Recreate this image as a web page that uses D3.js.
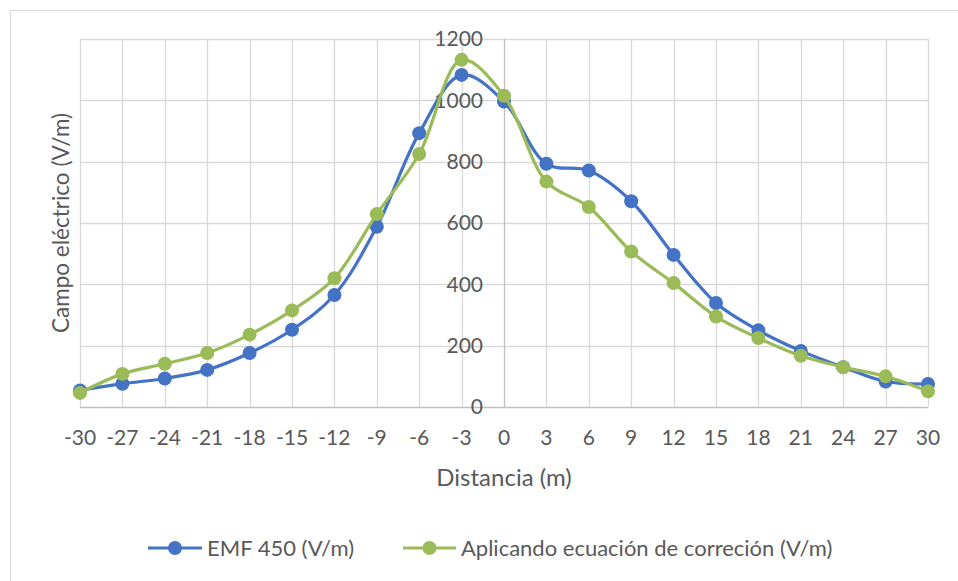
<!DOCTYPE html>
<html><head><meta charset="utf-8">
<script src="https://cdn.jsdelivr.net/npm/d3@7"></script>
<style>
body{margin:0;background:#fff;}
text{font-family:Lato,"Open Sans",sans-serif;fill:#595959;}
</style></head>
<body><svg id="c" width="958" height="581"></svg>
<script>
const distances = [-30,-27,-24,-21,-18,-15,-12,-9,-6,-3,0,3,6,9,12,15,18,21,24,27,30];
const emf450 = [54,76,93,121,176,252,365,588,893,1083,996,793,771,671,496,339,250,183,130,83,75];
const corregido = [46,108,141,176,236,315,420,629,825,1132,1015,735,652,507,404,295,225,167,130,100,51];
const yTicks = [0,200,400,600,800,1000,1200];
const seriesNames = ["EMF 450 (V/m)","Aplicando ecuación de correción (V/m)"];
const colors = ["#4472C4","#9BBB59"];

const svg = d3.select("#c");
svg.append("rect").attr("x",10.5).attr("y",10.5).attr("width",960).attr("height",580)
  .attr("fill","#fff").attr("stroke","#d9d9d9").attr("stroke-width",1);

const x = d3.scaleLinear().domain([-30,30]).range([80,928]);
const y = d3.scaleLinear().domain([0,1200]).range([407,39]);

// gridlines
svg.append("g").selectAll("line").data(yTicks).join("line")
  .attr("x1",x(-30)).attr("x2",x(30)).attr("y1",d=>Math.round(y(d))+0.5).attr("y2",d=>Math.round(y(d))+0.5)
  .attr("stroke",d=>d===0?"#bfbfbf":"#d9d9d9").attr("stroke-width",1.3);
svg.append("g").selectAll("line").data(distances).join("line")
  .attr("y1",y(0)).attr("y2",y(1200)).attr("x1",d=>Math.round(x(d))+0.5).attr("x2",d=>Math.round(x(d))+0.5)
  .attr("stroke",d=>d===0?"#bfbfbf":"#d9d9d9").attr("stroke-width",1.3);

// y tick labels (next to y axis at x=0)
svg.append("g").selectAll("text").data(yTicks).join("text")
  .attr("x",x(0)-21).attr("y",d=>y(d)).attr("dy","0.35em").attr("text-anchor","end")
  .style("font-size","21px").text(d=>d);
// x tick labels
svg.append("g").selectAll("text").data(distances).join("text")
  .attr("x",d=>x(d)).attr("y",438).attr("dy","0.35em").attr("text-anchor","middle")
  .style("font-size","21px").text(d=>d);

// axis titles
svg.append("text").attr("x",x(0)).attr("y",478).attr("dy","0.35em").attr("text-anchor","middle")
  .style("font-size","24px").text("Distancia (m)");
svg.append("text").attr("transform",`translate(61,${(y(0)+y(1200))/2}) rotate(-90)`).attr("dy","0.35em")
  .attr("text-anchor","middle").style("font-size","22.5px").text("Campo eléctrico (V/m)");

const line = d3.line().x(d=>x(d[0])).y(d=>y(d[1])).curve(d3.curveCatmullRom.alpha(0.5));
[emf450,corregido].forEach((vals,i)=>{
  const pts = distances.map((d,j)=>[d,vals[j]]);
  const g = svg.append("g");
  g.append("path").attr("d",line(pts)).attr("fill","none").attr("stroke",colors[i]).attr("stroke-width",3.2)
    .attr("stroke-linejoin","round");
  g.selectAll("circle").data(pts).join("circle").attr("cx",d=>x(d[0])).attr("cy",d=>y(d[1]))
    .attr("r",7).attr("fill",colors[i]);
});

// legend
const leg = [{x0:148,x1:202,tx:207},{x0:403,x1:456,tx:461}];
leg.forEach((l,i)=>{
  svg.append("line").attr("x1",l.x0).attr("x2",l.x1).attr("y1",548).attr("y2",548)
    .attr("stroke",colors[i]).attr("stroke-width",3.2);
  svg.append("circle").attr("cx",(l.x0+l.x1)/2).attr("cy",548).attr("r",7).attr("fill",colors[i]);
  svg.append("text").attr("x",l.tx).attr("y",548).attr("dy","0.35em").style("font-size","22px").text(seriesNames[i]);
});
</script></body></html>
